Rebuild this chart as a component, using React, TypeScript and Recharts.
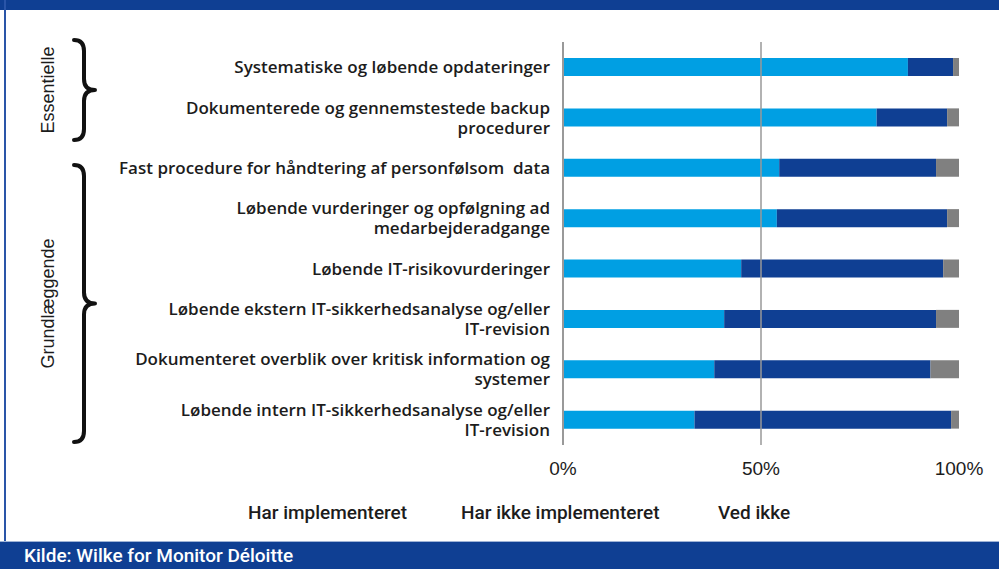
import { BarChart, Bar, XAxis, YAxis, ReferenceLine } from "recharts";

const categories = [
  "Systematiske og løbende opdateringer",
  "Dokumenterede og gennemstestede backup\nprocedurer",
  "Fast procedure for håndtering af personfølsom  data",
  "Løbende vurderinger og opfølgning ad\nmedarbejderadgange",
  "Løbende IT-risikovurderinger",
  "Løbende ekstern IT-sikkerhedsanalyse og/eller\nIT-revision",
  "Dokumenteret overblik over kritisk information og\nsystemer",
  "Løbende intern IT-sikkerhedsanalyse og/eller\nIT-revision",
];

const harImplementeret = [87.1, 79.2, 54.6, 54.0, 45.0, 40.7, 38.2, 33.2];
const harIkkeImplementeret = [11.4, 17.8, 39.6, 43.0, 51.0, 53.5, 54.6, 64.8];
const vedIkke = [1.5, 3.0, 5.8, 3.0, 4.0, 5.8, 7.2, 2.0];

const xTicks = [0, 50, 100];
const groups = [
  { name: "Essentielle", top: 40, bottom: 140 },
  { name: "Grundlæggende", top: 165, bottom: 442 },
];

const seriesNames = ["Har implementeret", "Har ikke implementeret", "Ved ikke"];

const LIGHT = "#009fe3";
const DARK = "#0f3f93";
const GREY = "#808080";

const data = categories.map((c, i) => ({
  name: c,
  a: harImplementeret[i],
  b: harIkkeImplementeret[i],
  c: vedIkke[i],
}));

function CategoryTick(props: any) {
  const { y, payload } = props;
  const lines = String(payload.value).split("\n");
  const lh = 20;
  const start = -((lines.length - 1) * lh) / 2;
  return (
    <text
      x={550}
      y={y}
      textAnchor="end"
      fill="#1c1c1c"
      fontSize={17}
      fontWeight={600}
      fontFamily="'Open Sans', sans-serif"
      style={{ whiteSpace: "pre" }}
    >
      {lines.map((l, i) => (
        <tspan key={i} x={550} y={y + start + i * lh} dy="0.35em">
          {l}
        </tspan>
      ))}
    </text>
  );
}

function brace(top: number, bottom: number) {
  const x0 = 74;
  const xm = 84;
  const x1 = 95;
  const ym = (top + bottom) / 2;
  const r = 11;
  return `M${x0},${top} Q${xm},${top} ${xm},${top + r} L${xm},${ym - r} Q${xm},${ym} ${x1},${ym} Q${xm},${ym} ${xm},${ym + r} L${xm},${bottom - r} Q${xm},${bottom} ${x0},${bottom}`;
}

export default function App() {
  const legendX = [248, 461, 718];
  return (
    <div
      style={{
        position: "absolute",
        left: 0,
        top: 0,
        width: 999,
        height: 569,
        background: "#fff",
        overflow: "hidden",
      }}
    >
      <div style={{ position: "absolute", left: 0, top: 0, width: 999, height: 10, background: DARK }} />
      <div style={{ position: "absolute", left: 4, top: 0, width: 2, height: 541, background: "#2a55a8" }} />

      <div style={{ position: "absolute", left: 0, top: 0 }}>
        <BarChart
          width={999}
          height={500}
          data={data}
          layout="vertical"
          margin={{ top: 42, right: 40, bottom: 15, left: 0 }}
          barSize={18}
        >
          <XAxis
            type="number"
            domain={[0, 100]}
            ticks={xTicks}
            tickFormatter={(v) => `${v}%`}
            axisLine={false}
            tickLine={false}
            tick={{ fontSize: 19, fill: "#1c1c1c", fontFamily: "'Liberation Sans', Arial, sans-serif" }}
            height={40}
            dy={9}
          />
          <YAxis
            type="category"
            dataKey="name"
            width={563}
            axisLine={false}
            tickLine={false}
            interval={0}
            tick={<CategoryTick />}
          />
          <ReferenceLine x={0} stroke="#999" strokeWidth={2} />
          <ReferenceLine x={50} stroke="#999" strokeWidth={1.5} />
          <Bar dataKey="a" name={seriesNames[0]} stackId="s" fill={LIGHT} isAnimationActive={false} />
          <Bar dataKey="b" name={seriesNames[1]} stackId="s" fill={DARK} isAnimationActive={false} />
          <Bar dataKey="c" name={seriesNames[2]} stackId="s" fill={GREY} isAnimationActive={false} />
        </BarChart>
      </div>

      <svg width={999} height={569} style={{ position: "absolute", left: 0, top: 0, pointerEvents: "none" }}>
        {groups.map((g) => (
          <g key={g.name}>
            <path d={brace(g.top, g.bottom)} fill="none" stroke="#111" strokeWidth={4} strokeLinecap="round" strokeLinejoin="round" />
            <text
              transform={`translate(48,${(g.top + g.bottom) / 2}) rotate(-90)`}
              textAnchor="middle"
              dominantBaseline="central"
              fontSize={18}
              fill="#1c1c1c"
              fontFamily="'Liberation Sans', Arial, sans-serif"
            >
              {g.name}
            </text>
          </g>
        ))}
        {seriesNames.map((n, i) => (
          <text
            key={n}
            x={legendX[i]}
            y={519}
            fontSize={19}
            fontWeight={500}
            fill="#1c1c1c"
            fontFamily="Roboto, sans-serif"
          >
            {n}
          </text>
        ))}
      </svg>

      <div
        style={{
          position: "absolute",
          left: 0,
          top: 541,
          width: 999,
          height: 28,
          background: DARK,
          borderTop: "1px solid #9fb3d6",
          color: "#fff",
          fontFamily: "Roboto, sans-serif",
          fontWeight: 500,
          fontSize: 19,
          lineHeight: "28px",
          paddingLeft: 24,
          boxSizing: "border-box",
        }}
      >
        Kilde: Wilke for Monitor Déloitte
      </div>
    </div>
  );
}
